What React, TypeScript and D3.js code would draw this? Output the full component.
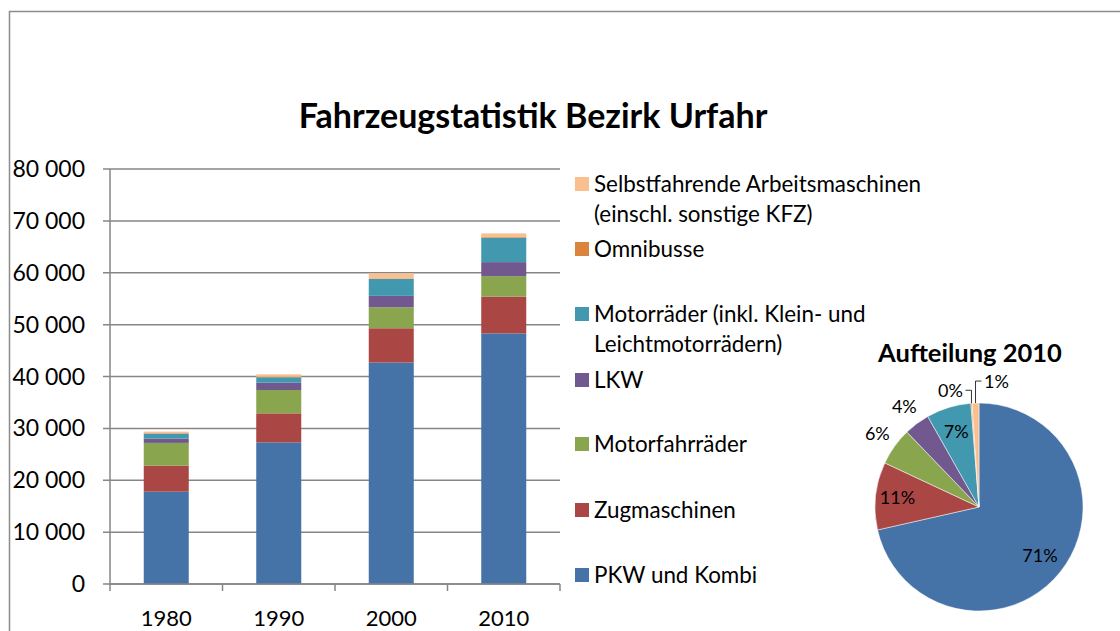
import React from "react";
import * as d3 from "d3";

const years = ["1980", "1990", "2000", "2010"];
const seriesNames = [
  "PKW und Kombi",
  "Zugmaschinen",
  "Motorfahrräder",
  "LKW",
  "Motorräder (inkl. Klein- und Leichtmotorrädern)",
  "Omnibusse",
  "Selbstfahrende Arbeitsmaschinen (einschl. sonstige KFZ)",
];
const pkw = [17800, 27300, 42700, 48300];
const zug = [5000, 5600, 6600, 7100];
const motorfahr = [4400, 4500, 4050, 3950];
const lkw = [830, 1400, 2200, 2700];
const motorrad = [960, 1040, 3250, 4700];
const omnibus = [80, 100, 100, 120];
const selbst = [300, 480, 1000, 720];
const yTicks = [0, 10000, 20000, 30000, 40000, 50000, 60000, 70000, 80000];
const colors = ["#4572A7", "#AA4643", "#89A54E", "#71588F", "#4198AF", "#DB843D", "#F9BF8F"];

const legendLines = [
  ["PKW und Kombi"],
  ["Zugmaschinen"],
  ["Motorfahrräder"],
  ["LKW"],
  ["Motorräder (inkl. Klein- und", "Leichtmotorrädern)"],
  ["Omnibusse"],
  ["Selbstfahrende Arbeitsmaschinen", "(einschl. sonstige KFZ)"],
];

const FONT = "Lato, 'Open Sans', sans-serif";

export default function App() {
  const series = [pkw, zug, motorfahr, lkw, motorrad, omnibus, selbst];
  const rows = years.map((y, i) => {
    const r: any = { year: y };
    series.forEach((s, k) => (r["s" + k] = s[i]));
    return r;
  });
  const keys = series.map((_, k) => "s" + k);
  const stacked = d3.stack().keys(keys)(rows);

  const x = d3.scaleBand().domain(years).range([110, 560]).paddingInner(0.6).paddingOuter(0.3);
  const xOuter = d3.scaleBand().domain(years).range([110, 560]);
  const y = d3.scaleLinear().domain([0, 80000]).range([584, 169]);
  const fmt = (v: number) => d3.format(",")(v).replace(/,/g, " ");

  // pie
  const pieVals = series.map((s) => s[3]);
  const total = d3.sum(pieVals);
  const pie = d3.pie<number>().sort(null).value((d) => d)(pieVals);
  const R = 104;
  const cx = 979, cy = 507;
  const arc = d3.arc<any>().innerRadius(0).outerRadius(R);
  const labelR = [78, 82, 125, 125, 78, 0, 0];

  const legendY = [575, 510, 444, 380, 314, 249, 184];

  return (
    <div style={{ position: "absolute", left: 0, top: 0 }}>
      <svg width={1120} height={631} style={{ display: "block", fontFamily: FONT }}>
        <rect x={0} y={0} width={1120} height={631} fill="#fff" />
        <path d="M9.5,640 V11.5 H1130" fill="none" stroke="#8c8c8c" strokeWidth={1.5} />
        <text x={533} y={128} textAnchor="middle" fontWeight="bold" fontSize={34} fill="#000">
          Fahrzeugstatistik Bezirk Urfahr
        </text>
        {/* gridlines */}
        {yTicks.map((t) => (
          <g key={t}>
            <line x1={103} x2={560} y1={y(t)} y2={y(t)} stroke="#868686" strokeWidth={1.5} />
            <text x={85} y={y(t) + 8} textAnchor="end" fontSize={23} fill="#000">
              {fmt(t)}
            </text>
          </g>
        ))}
        {/* bars */}
        {stacked.map((layer, k) =>
          layer.map((d, i) => (
            <rect
              key={k + "-" + i}
              x={x(years[i])}
              y={y(d[1])}
              width={x.bandwidth()}
              height={Math.max(0, y(d[0]) - y(d[1]))}
              fill={colors[k]}
            />
          ))
        )}
        <line x1={110} x2={110} y1={169} y2={584} stroke="#868686" strokeWidth={1.5} />
        <line x1={110} x2={560} y1={584} y2={584} stroke="#868686" strokeWidth={1.5} />
        {years.map((yr, i) => (
          <g key={yr}>
            <line x1={xOuter(yr)!} x2={xOuter(yr)!} y1={584} y2={591} stroke="#868686" strokeWidth={1.5} />
            <text x={xOuter(yr)! + xOuter.bandwidth() / 2} y={626} textAnchor="middle" fontSize={22} fill="#000">
              {yr}
            </text>
          </g>
        ))}
        <line x1={560} x2={560} y1={584} y2={591} stroke="#868686" strokeWidth={1.5} />
        {/* legend */}
        {legendLines.map((lines, k) => (
          <g key={k}>
            <rect x={575} y={legendY[k] - 7} width={14} height={14} fill={colors[k]} />
            {lines.map((ln, j) => (
              <text key={j} x={594} y={legendY[k] + 8 + j * 30} fontSize={22.4} fill="#000">
                {ln}
              </text>
            ))}
          </g>
        ))}
        {/* pie */}
        <text x={970} y={362} textAnchor="middle" fontWeight="bold" fontSize={25.5} fill="#000">
          Aufteilung 2010
        </text>
        <g transform={`translate(${cx},${cy})`}>
          {pie.map((p, k) => (
            <path key={k} d={arc(p)!} fill={colors[k]} stroke="#fff" strokeWidth={0.5} />
          ))}
          {pie.map((p, k) => {
            const pct = Math.round((p.value / total) * 100) + "%";
            const a = (p.startAngle + p.endAngle) / 2;
            if (labelR[k] > 0) {
              return (
                <text key={"l" + k} x={Math.sin(a) * labelR[k]} y={-Math.cos(a) * labelR[k] + 6} textAnchor="middle" fontSize={18} fill="#000">
                  {pct}
                </text>
              );
            }
            const pt = [Math.sin(a) * R, -Math.cos(a) * R];
            if (k === 5) {
              return (
                <g key={"l" + k}>
                  <polyline points={`${pt[0]},${pt[1]} ${pt[0]},${pt[1] - 13} ${pt[0] - 6},${pt[1] - 13}`} fill="none" stroke="#000" strokeWidth={0.8} />
                  <text x={pt[0] - 21} y={pt[1] - 13 + 7} textAnchor="middle" fontSize={18} fill="#000">{pct}</text>
                </g>
              );
            }
            return (
              <g key={"l" + k}>
                <polyline points={`${pt[0]},${pt[1]} ${pt[0]},${pt[1] - 22} ${pt[0] + 6},${pt[1] - 22}`} fill="none" stroke="#000" strokeWidth={0.8} />
                <text x={pt[0] + 21} y={pt[1] - 22 + 7} textAnchor="middle" fontSize={18} fill="#000">{pct}</text>
              </g>
            );
          })}
        </g>
      </svg>
    </div>
  );
}
